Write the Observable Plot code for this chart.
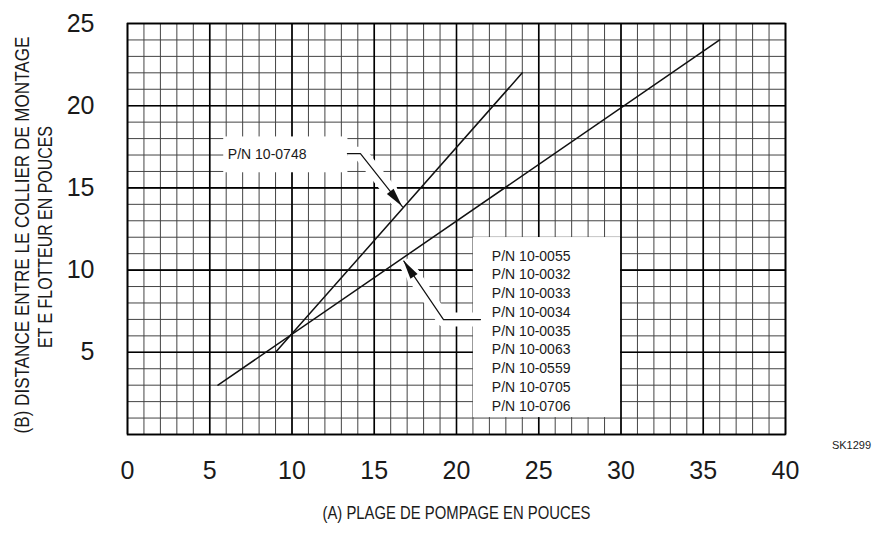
<!DOCTYPE html>
<html><head><meta charset="utf-8">
<script src="https://cdn.jsdelivr.net/npm/d3@7"></script>
<script src="https://cdn.jsdelivr.net/npm/@observablehq/plot@0.6"></script>
<style>body{margin:0;background:#fff}</style>
</head><body><div id="chart"></div>
<script>
// ---- data ----
const xTicks = [0, 5, 10, 15, 20, 25, 30, 35, 40];
const yTicks = [5, 10, 15, 20, 25];
const xMinor = d3.range(0, 41, 1);
const yMinor = d3.range(0, 26, 1);
const xMajor = [0, 5, 10, 15, 20, 25, 30, 35, 40];
const yMajor = [0, 5, 10, 15, 20, 25];

const part0748 = "P/N 10-0748";
const part0748X = [9, 24];
const part0748Y = [5, 22];

const groupParts = ["P/N 10-0055", "P/N 10-0032", "P/N 10-0033", "P/N 10-0034", "P/N 10-0035",
                    "P/N 10-0063", "P/N 10-0559", "P/N 10-0705", "P/N 10-0706"];
const groupX = [5.5, 36];
const groupY = [3, 24];

// annotation geometry (data units)
const leader0748X = [13.37, 14.16, 16.72];
const leader0748Y = [17.08, 17.08, 13.85];
const leaderGroupX = [21.46, 19.21, 16.8];
const leaderGroupY = [6.99, 6.99, 10.55];
const boxX1 = [5.85, 21.03], boxX2 = [13.4, 29.97], boxY1 = [15.92, 1.03], boxY2 = [18.1, 11.98];

const xTitle = "(A) PLAGE DE POMPAGE EN POUCES";
const yTitle1 = "(B) DISTANCE ENTRE LE COLLIER DE MONTAGE";
const yTitle2 = "ET E FLOTTEUR EN POUCES";
const code = "SK1299";

// ---- tables ----
const series = [
  ...part0748X.map((x, i) => ({part: part0748, x, y: part0748Y[i]})),
  ...groupX.map((x, i) => ({part: "group", x, y: groupY[i]}))
];
const leaders = [
  ...leader0748X.map((x, i) => ({id: "a", x, y: leader0748Y[i]})),
  ...leaderGroupX.map((x, i) => ({id: "b", x, y: leaderGroupY[i]}))
];
const boxes = boxX1.map((x1, i) => ({x1, x2: boxX2[i], y1: boxY1[i], y2: boxY2[i]}));
const arrows = [
  {fx: leader0748X[1], fy: leader0748Y[1], tx: leader0748X[2], ty: leader0748Y[2]},
  {fx: leaderGroupX[1], fy: leaderGroupY[1], tx: leaderGroupX[2], ty: leaderGroupY[2]}
];

const arrowHeads = (halo) => (index, scales) => {
  const g = d3.create("svg:g");
  for (const a of arrows) {
    const tx = scales.x(a.tx), ty = scales.y(a.ty);
    const fx = scales.x(a.fx), fy = scales.y(a.fy);
    const dx = tx - fx, dy = ty - fy, len = Math.hypot(dx, dy);
    const ux = dx / len, uy = dy / len;
    const L = halo ? 25 : 19, W = halo ? 9 : 4.3;
    const ex = halo ? tx + ux * 3 : tx, ey = halo ? ty + uy * 3 : ty;
    const bx = ex - ux * L, by = ey - uy * L;
    const pts = [[ex, ey], [bx - uy * W, by + ux * W], [bx + uy * W, by - ux * W]];
    g.append("path").attr("d", "M" + pts.map(p => p.join(",")).join("L") + "Z")
      .attr("fill", halo ? "white" : "#111");
  }
  return g.node();
};

const font = "'Liberation Sans',Arial,sans-serif";

const chart = Plot.plot({
  width: 885,
  height: 547,
  marginLeft: 127,
  marginRight: 100,
  marginTop: 23,
  marginBottom: 113,
  style: {fontFamily: font, fontSize: "25px", color: "#1a1a1a", background: "white"},
  x: {domain: [0, 40], ticks: xTicks, tickSize: 0, tickPadding: 27, label: null},
  y: {domain: [0, 25], ticks: yTicks, tickSize: 0, tickPadding: 33, label: null},
  marks: [
    Plot.ruleX(xMinor, {stroke: "#444", strokeWidth: 1}),
    Plot.ruleY(yMinor, {stroke: "#444", strokeWidth: 1}),
    Plot.ruleX(xMajor, {stroke: "#000", strokeWidth: 1.6}),
    Plot.ruleY(yMajor, {stroke: "#000", strokeWidth: 1.6}),
    Plot.rect(boxes, {x1: "x1", x2: "x2", y1: "y1", y2: "y2", fill: "white"}),
    Plot.line(leaders, {x: "x", y: "y", z: "id", stroke: "white", strokeWidth: 14, strokeLinecap: "butt"}),
    arrowHeads(true),
    Plot.line(series, {x: "x", y: "y", z: "part", stroke: "#111", strokeWidth: 1.5}),
    Plot.line(leaders, {x: "x", y: "y", z: "id", stroke: "#111", strokeWidth: 1.2}),
    arrowHeads(false),
    Plot.frame({stroke: "#000", strokeWidth: 1.6}),
    Plot.text([part0748], {x: 6.1, y: 17.02, text: d => d, textAnchor: "start", fontSize: 14, fill: "#1a1a1a"}),
    Plot.text([groupParts.join("\n")], {x: 22.15, y: 6.38, text: d => d, textAnchor: "start", lineAnchor: "middle", lineHeight: 1.34, fontSize: 14, fill: "#1a1a1a"}),
    Plot.text([xTitle], {frameAnchor: "bottom", textAnchor: "middle", dy: 84, text: d => d, fontSize: 18, fill: "#1a1a1a", ariaLabel: () => "x-title"}),
    Plot.text([yTitle1], {frameAnchor: "left", textAnchor: "middle", dx: -105, dy: 6, rotate: -90, text: d => d, fontSize: 20.5, fill: "#1a1a1a", ariaLabel: () => "y-title-1"}),
    Plot.text([yTitle2], {frameAnchor: "left", textAnchor: "middle", dx: -82, dy: 8, rotate: -90, text: d => d, fontSize: 20.5, fill: "#1a1a1a", ariaLabel: () => "y-title-2"}),
    Plot.text([code], {frameAnchor: "bottom-right", textAnchor: "middle", dx: 66, dy: 14, text: d => d, fontSize: 11, fill: "#1a1a1a"})
  ]
});

document.getElementById("chart").appendChild(chart);

// condense the axis titles to the reference's narrow lettering
function fit(label, len) {
  chart.querySelectorAll(`[aria-label="${label}"]`).forEach(el => {
    const texts = el.tagName.toLowerCase() === "text" ? [el] : [...el.querySelectorAll("text")];
    texts.forEach(t => {
      const w = t.getComputedTextLength();
      if (!w) return;
      const k = len / w;
      const tr = t.getAttribute("transform") || "";
      t.setAttribute("transform", (tr + ` scale(${k},1)`).trim());
    });
  });
}
fit("x-title", 268);
fit("y-title-1", 397);
fit("y-title-2", 222);
</script>
</body></html>
